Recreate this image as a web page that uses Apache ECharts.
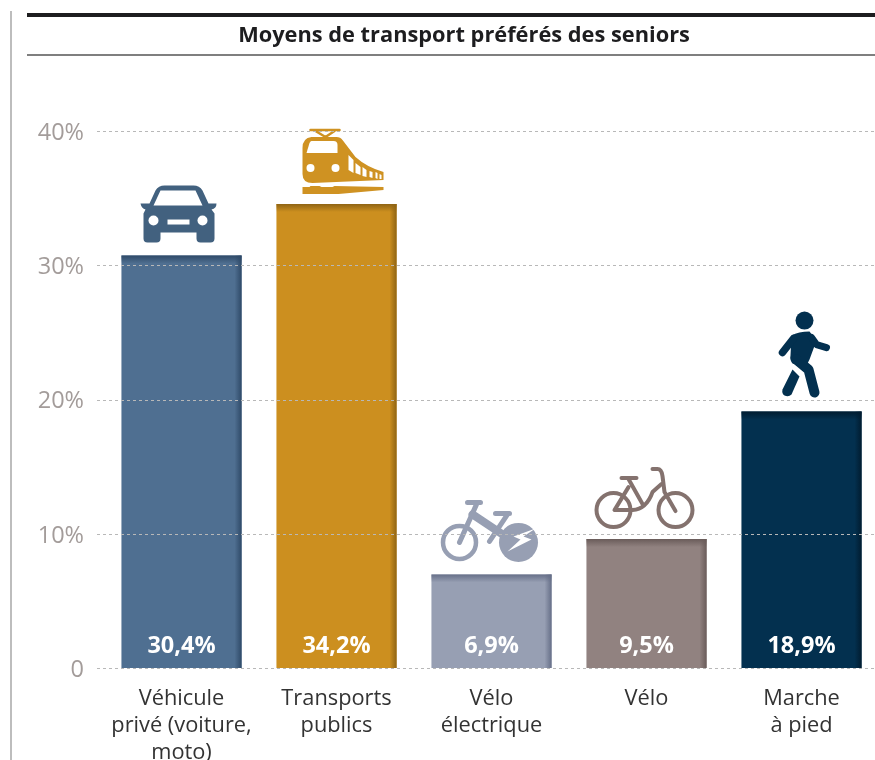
<!DOCTYPE html>
<html>
<head>
<meta charset="utf-8">
<title>Moyens de transport</title>
<script src="https://cdn.jsdelivr.net/npm/echarts@6/dist/echarts.min.js"></script>
<style>
html,body{margin:0;padding:0;background:#fff;}
#chart{width:875px;height:760px;}
</style>
</head>
<body>
<div id="chart"></div>
<script>
// donnees
var categories = ["Véhicule\nprivé (voiture,\nmoto)", "Transports\npublics", "Vélo\nélectrique", "Vélo", "Marche\nà pied"];
var values = [30.4, 34.2, 6.9, 9.5, 18.9];
var valueLabels = ["30,4%", "34,2%", "6,9%", "9,5%", "18,9%"];
var barColors = ["#4f6f91", "#cc8f1f", "#979fb3", "#918280", "#03304f"];
var edgeColors = ["#2f4a68", "#8f6414", "#666f88", "#6a5c5a", "#011c30"];
var iconColors = ["#42617f", "#cf9222", "#979fb3", "#84726e", "#03304f"];
var iconNames = ["car", "train", "ebike", "bike", "walker"];
var yTicks = {0: "0", 10: "10%", 20: "20%", 30: "30%", 40: "40%"};

// pictos, en coordonnees locales : (0,0) = milieu du haut de la barre
function fill(d, c) { return {type: "path", shape: {pathData: d}, style: {fill: c}}; }
function line(d, c, w) { return {type: "path", shape: {pathData: d}, style: {fill: "none", stroke: c, lineWidth: w, lineCap: "round", lineJoin: "round"}}; }
function ring(x, y, r, c, w) { return {type: "circle", shape: {cx: x, cy: y, r: r}, style: {fill: "none", stroke: c, lineWidth: w}}; }
function disc(x, y, r, c) { return {type: "circle", shape: {cx: x, cy: y, r: r}, style: {fill: c}}; }

var icons = {
    car: function (c) {
        return [
            fill("M-41,-52 L-32,-52 L-26,-65 Q-23,-70 -17,-70 L12,-70 Q18,-70 21,-65 L27,-52 L35,-52 Q35,-47 30,-46 L33,-42 L33,-17 Q33,-13 29,-13 L19,-13 Q15,-13 15,-17 L15,-23 L-21,-23 L-21,-17 Q-21,-13 -25,-13 L-34,-13 Q-38,-13 -38,-17 L-38,-42 L-36,-46 Q-40,-47 -41,-52 Z", c),
            fill("M-28,-50 L-21,-65 L14,-65 L21,-50 Z", "#fff"),
            disc(-28, -35, 5, "#fff"),
            disc(21, -35, 5, "#fff"),
            fill("M-14,-36 L8,-36 L8,-31 L-14,-31 Z", "#fff")
        ];
    },
    train: function (c) {
        return [
            line("M-26,-74 L3,-74 M-21,-73 L-11,-67 L-2,-73", c, 2.5),
            fill("M-25,-67 Q-34,-66 -34,-56 L-34,-30 Q-34,-21 -24,-21 L47,-24 L47,-32 Q30,-37 19,-47 L6,-64 Q4,-67 0,-67 Z", c),
            fill("M-30,-51 L-27,-61 Q-26,-63 -25,-63 L-3,-63 Q1,-63 1,-59 L1,-51 Z", "#fff"),
            disc(-26, -36, 4, "#fff"),
            disc(-1, -36, 4, "#fff"),
            fill("M12,-49 L17,-44 L17,-31 L12,-34 Z", "#fff"),
            fill("M19,-41 L24,-37 L24,-29 L19,-31 Z", "#fff"),
            fill("M26,-37 L30,-34 L30,-27 L26,-28 Z", "#fff"),
            fill("M33,-33 L36,-32 L36,-26 L33,-27 Z", "#fff"),
            fill("M39,-32 L41,-31 L41,-25 L39,-26 Z", "#fff"),
            fill("M43,-30 L45,-29 L45,-25 L43,-25 Z", "#fff"),
            fill("M-34,-17 L-27,-17 L-26,-18 L-17,-18 L-15,-17 L-4,-17 L-2,-18 L47,-17 L47,-14 L2,-10 L-34,-10 Z", c)
        ];
    },
    ebike: function (c) {
        return [
            ring(-32, -32, 16.5, c, 4.5),
            disc(27, -32, 19.5, c),
            fill("M44,-46 L22,-38 L29,-35 L16,-23 L40,-35 L32,-38 Z", "#fff"),
            line("M-15,-70 L-32,-32 M-24,-72 L-11,-72", c, 5),
            line("M4,-61 L18,-61 M16,-60 L-2,-33", c, 5),
            line("M-19,-60 L11,-40", c, 8)
        ];
    },
    bike: function (c) {
        return [
            ring(-33, -29, 17, c, 4),
            ring(29, -29, 17, c, 4),
            line("M-25,-61 L-10,-61 M-18,-60 L-4,-35 M-18,-52 L-32,-29 L-14,-29 Q0,-30 6,-47 L15,-55", c, 4),
            line("M6,-70 L11,-70 Q15,-70 16,-63 L18,-47 L29,-28", c, 4)
        ];
    },
    walker: function (c) {
        return [
            disc(3, -91, 9, c),
            fill("M-10,-76 Q-3,-80 8,-80 L15,-71 L8,-52 L4,-44 L-9,-48 Q-12,-52 -11,-56 Z", c),
            line("M10,-74 L15,-67 L25,-64", c, 7),
            line("M-8,-73 L-19,-59", c, 7.5),
            line("M-5,-52 L7,-42 L13,-19", c, 10),
            fill("M-9,-42 L-2,-35 L-10,-17 Q-13,-14 -17,-16 Q-20,-18 -19,-22 Z", c)
        ];
    }
};

var chart = echarts.init(document.getElementById("chart"), null, {renderer: "canvas"});

function barItem(params, api) {
    var i = params.dataIndex;
    var top = api.coord([i, api.value(1)]);
    var base = api.coord([i, 0]);
    var w = api.size([1, 0])[0] * 0.775;
    var x = top[0] - w / 2, h = base[1] - top[1];
    var dark = edgeColors[i];
    var clear = echarts.color.modifyAlpha(dark, 0);
    return {
        type: "group",
        children: [
            {type: "rect", shape: {x: x, y: top[1], width: w, height: h}, style: {fill: barColors[i]}},
            {type: "rect", shape: {x: x, y: top[1], width: w, height: 8}, style: {
                fill: new echarts.graphic.LinearGradient(0, 0, 0, 1, [{offset: 0, color: dark}, {offset: 1, color: clear}])
            }},
            {type: "rect", shape: {x: x + w - 7, y: top[1], width: 7, height: h}, style: {
                fill: new echarts.graphic.LinearGradient(1, 0, 0, 0, [{offset: 0, color: dark}, {offset: 1, color: clear}])
            }}
        ]
    };
}

function iconItem(params, api) {
    var i = params.dataIndex;
    var top = api.coord([i, api.value(1)]);
    return {
        type: "group", x: top[0], y: top[1],
        children: icons[iconNames[i]](iconColors[i])
    };
}

chart.setOption({
    animation: false,
    title: {
        text: "Moyens de transport préférés des seniors",
        left: 459, top: 20, textAlign: "center",
        textStyle: {fontFamily: "Open Sans", fontWeight: 700, fontSize: 21.8, color: "#1d1d1f"}
    },
    graphic: [
        {type: "rect", shape: {x: 10, y: 11, width: 2, height: 749}, style: {fill: "#bdbdbd"}},
        {type: "rect", shape: {x: 27, y: 13, width: 848, height: 4}, style: {fill: "#1d1d1f"}},
        {type: "rect", shape: {x: 27, y: 54, width: 848, height: 2}, style: {fill: "#7f7f7f"}}
    ],
    grid: [
        {left: 97, top: 131.5, width: 778, height: 536.5, outerBoundsMode: "none"},
        {left: 104, top: 131.5, width: 775, height: 536.5, outerBoundsMode: "none"}
    ],
    xAxis: [
        {gridIndex: 0, type: "value", min: 0, max: 1, show: false},
        {
            gridIndex: 1, type: "category", data: categories,
            axisLine: {show: false}, axisTick: {show: false},
            axisLabel: {
                interval: 0, margin: 17, lineHeight: 27,
                fontFamily: "Open Sans", fontSize: 21.8, color: "#333333"
            }
        }
    ],
    yAxis: [
        {
            gridIndex: 0, type: "value", min: 0, max: 40, interval: 10, z: 5,
            axisLine: {show: false}, axisTick: {show: false},
            axisLabel: {
                margin: 13, verticalAlign: "top", lineHeight: 4,
                fontFamily: "Open Sans", fontSize: 23.5, color: "#a39c9a",
                formatter: function (v) { return yTicks[v]; }
            },
            splitLine: {lineStyle: {color: "#b8b8b8", width: 1, type: [3, 3]}}
        },
        // l'echelle des barres du graphique d'origine est un peu plus haute que celle des graduations
        {gridIndex: 1, type: "value", min: 0, max: 39.54, show: false}
    ],
    series: [
        {
            type: "custom", xAxisIndex: 1, yAxisIndex: 1, z: 2,
            renderItem: barItem,
            data: values.map(function (v, i) { return [i, v]; }),
            encode: {x: 0, y: 1}
        },
        {
            type: "custom", xAxisIndex: 1, yAxisIndex: 1, z: 3,
            renderItem: iconItem,
            data: values.map(function (v, i) { return [i, v]; }),
            encode: {x: 0, y: 1}
        },
        {
            type: "scatter", xAxisIndex: 1, yAxisIndex: 1, z: 6, symbolSize: 0,
            itemStyle: {opacity: 1},
            data: values.map(function (v, i) { return [i, 0]; }),
            label: {
                show: true, position: "top", distance: 10, opacity: 1,
                fontFamily: "Open Sans", fontWeight: 700, fontSize: 23.5, color: "#fff",
                formatter: function (p) { return valueLabels[p.dataIndex]; }
            }
        }
    ]
});
</script>
</body>
</html>
